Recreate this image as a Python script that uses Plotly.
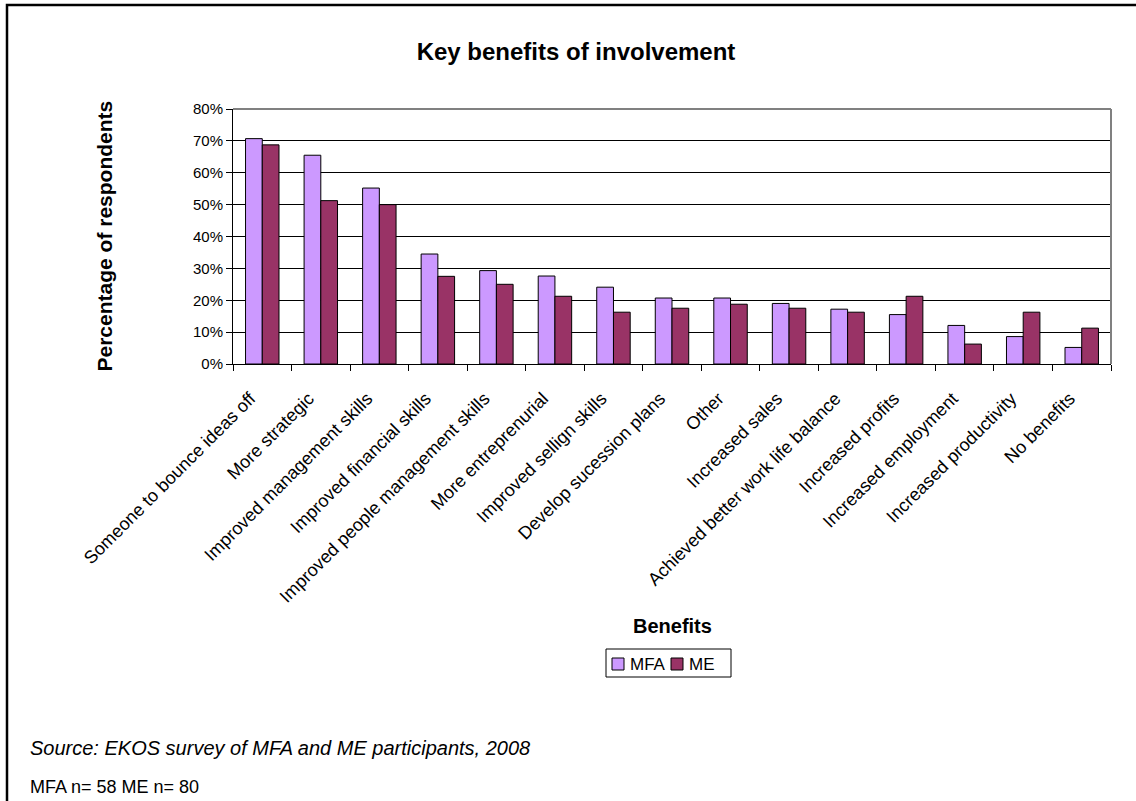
import plotly.graph_objects as go

# Survey results: share of respondents citing each benefit
categories = [
    "Someone to bounce ideas off",
    "More strategic",
    "Improved management skills",
    "Improved financial skills",
    "Improved people management skills",
    "More entreprenurial",
    "Improved sellign skills",
    "Develop sucession plans",
    "Other",
    "Increased sales",
    "Achieved better work life balance",
    "Increased profits",
    "Increased employment",
    "Increased productivity",
    "No benefits",
]
mfa = [0.707, 0.655, 0.552, 0.345, 0.293, 0.276, 0.241, 0.207, 0.207, 0.190,
       0.172, 0.155, 0.121, 0.086, 0.052]
me = [0.6875, 0.5125, 0.500, 0.275, 0.250, 0.2125, 0.1625, 0.175, 0.1875, 0.175,
      0.1625, 0.2125, 0.0625, 0.1625, 0.1125]
y_ticks = [0, 0.1, 0.2, 0.3, 0.4, 0.5, 0.6, 0.7, 0.8]
series_names = ["MFA", "ME"]
series_colors = ["#CC99FF", "#993366"]

FONT = "Liberation Sans, Arial, sans-serif"
W, H = 1136, 801
L, R, T, B = 233, 25, 109, 437
PW, PH = W - L - R, H - T - B


def px_x(p):
    return (p - L) / PW


def px_y(p):
    return (H - B - p) / PH


fig = go.Figure()
for name, vals, col in zip(series_names, [mfa, me], series_colors):
    fig.add_trace(go.Bar(name=name, x=categories, y=vals, showlegend=False,
                         marker=dict(color=col, line=dict(color="black", width=1))))

fig.update_layout(
    width=W, height=H,
    margin=dict(l=L, r=R, t=T, b=B),
    paper_bgcolor="white", plot_bgcolor="white",
    barmode="group", bargap=0.4286, bargroupgap=0,
    font=dict(family=FONT, color="black"),
    title=dict(text="<b>Key benefits of involvement</b>", xref="paper", x=px_x(576),
               xanchor="center", yref="container", y=1 - 52 / H, yanchor="middle",
               font=dict(size=24, family=FONT, color="black")),
)

fig.update_xaxes(
    type="category", showline=True, linecolor="black", linewidth=1,
    ticks="outside", tickson="boundaries", ticklen=6, tickcolor="black",
    tickangle=-45, tickfont=dict(size=18, family=FONT, color="black"),
    ticklabelstandoff=16, ticklabelshift=-12,
    showgrid=False,
)
fig.update_yaxes(
    range=[0, 0.8], tickvals=y_ticks, tickformat=".0%",
    showline=True, linecolor="black", linewidth=1,
    ticks="outside", ticklen=6, tickcolor="black",
    tickfont=dict(size=15, family=FONT, color="black"),
    showgrid=True, gridcolor="black", gridwidth=1, zeroline=False,
)

# Plot-area border (top and right) in grey
fig.add_shape(type="line", xref="paper", yref="paper", x0=0, x1=1, y0=1, y1=1,
              line=dict(color="#808080", width=2), layer="above")
fig.add_shape(type="line", xref="paper", yref="paper", x0=1, x1=1, y0=0, y1=1,
              line=dict(color="#808080", width=2), layer="above")

# Chart frame
fig.add_shape(type="rect", xref="paper", yref="paper",
              x0=px_x(7), x1=px_x(W + 10), y0=px_y(H + 10), y1=px_y(5),
              line=dict(color="black", width=2.5), layer="above")

# Legend box with swatches
fig.add_shape(type="rect", xref="paper", yref="paper",
              x0=px_x(606), x1=px_x(731), y0=px_y(677), y1=px_y(649),
              line=dict(color="black", width=1), fillcolor="white", layer="above")
for (sx, tx), name, col in zip([(612, 628), (671, 687)], series_names, series_colors):
    fig.add_shape(type="rect", xref="paper", yref="paper",
                  x0=px_x(sx), x1=px_x(sx + 12), y0=px_y(670), y1=px_y(658),
                  line=dict(color="black", width=1), fillcolor=col, layer="above")
    fig.add_annotation(text=name, xref="paper", yref="paper", x=px_x(tx), y=px_y(664),
                       xanchor="left", yanchor="middle", showarrow=False,
                       font=dict(size=17, family=FONT))

fig.add_annotation(text="<b>Percentage of respondents</b>", xref="paper", yref="paper",
                   x=px_x(104), y=0.5, xanchor="center", yanchor="middle",
                   textangle=-90, showarrow=False, font=dict(size=21, family=FONT))
fig.add_annotation(text="<b>Benefits</b>", xref="paper", yref="paper",
                   x=px_x(672), y=px_y(626), xanchor="center", yanchor="middle",
                   showarrow=False, font=dict(size=20, family=FONT))
fig.add_annotation(text="<i>Source: EKOS survey of MFA and ME participants, 2008</i>",
                   xref="paper", yref="paper", x=px_x(28), y=px_y(748),
                   xanchor="left", yanchor="middle", showarrow=False,
                   font=dict(size=20, family=FONT))
fig.add_annotation(text="MFA n= 58 ME n= 80",
                   xref="paper", yref="paper", x=px_x(28), y=px_y(787),
                   xanchor="left", yanchor="middle", showarrow=False,
                   font=dict(size=18, family=FONT))

fig.write_html("out.html")
